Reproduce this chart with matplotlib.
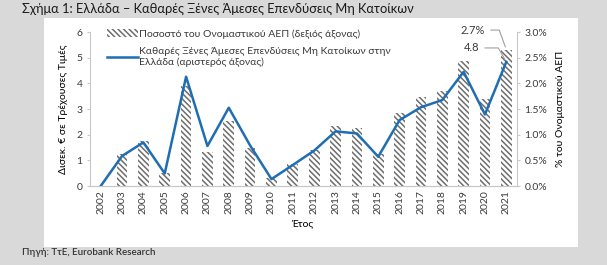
import matplotlib
matplotlib.use("Agg")
import matplotlib.pyplot as plt
from matplotlib.patches import Rectangle
from matplotlib.ticker import FuncFormatter

years = [str(y) for y in range(2002, 2022)]
fdi_bn = [0.0, 1.17, 1.70, 0.49, 4.26, 1.56, 3.05, 1.58, 0.27, 0.82,
          1.38, 2.13, 2.05, 1.14, 2.57, 3.07, 3.35, 4.45, 2.79, 4.84]
fdi_gdp = [0.0, 0.63, 0.88, 0.25, 1.95, 0.66, 1.27, 0.75, 0.15, 0.42,
           0.71, 1.16, 1.14, 0.62, 1.43, 1.73, 1.86, 2.43, 1.69, 2.66]

bar_label = "Ποσοστό του Ονομαστικού ΑΕΠ (δεξιός άξονας)"
line_label = "Καθαρές Ξένες Άμεσες Επενδύσεις Μη Κατοίκων στην\nΕλλάδα (αριστερός άξονας)"

plt.rcParams.update(
    {
        "font.family": ["Lato", "DejaVu Sans"],
        "font.size": 7,
        "hatch.color": "#6e6e6e",
        "hatch.linewidth": 1.1,
        "text.color": "#3a3a3a",
        "xtick.color": "#3a3a3a",
        "ytick.color": "#3a3a3a",
    }
)

fig = plt.figure(figsize=(6.07, 2.65), dpi=100)
fig.patch.set_facecolor("#d9d9d9")
fig.patches.append(
    Rectangle((0.0725, 0.068), 0.8795, 0.864, transform=fig.transFigure,
              facecolor="white", edgecolor="none", zorder=-5)
)

ax = fig.add_axes([0.1483, 0.298, 0.7034, 0.581])
ax2 = ax.twinx()
ax.set_zorder(ax2.get_zorder() + 1)
ax.patch.set_visible(False)
ax2.patch.set_visible(False)

x = list(range(len(years)))
bars = ax2.bar(x, fdi_gdp, width=0.5, color="white", hatch="\\\\\\\\\\\\",
               label=bar_label)
line, = ax.plot(x, fdi_bn, color="#1f6db2", linewidth=1.8, label=line_label)

ax.set_xlim(-0.5, 19.5)
ax.set_ylim(0, 6)
ax2.set_ylim(0, 3)
ax.set_yticks(range(0, 7))
ax2.set_yticks([0, 0.5, 1.0, 1.5, 2.0, 2.5, 3.0])
ax2.yaxis.set_major_formatter(FuncFormatter(lambda v, p: f"{v:.1f}%"))
ax.set_xticks(x)
ax.set_xticklabels(years, rotation=90)

for a in (ax, ax2):
    a.spines["top"].set_visible(False)
    for s in ("left", "right", "bottom"):
        a.spines[s].set_color("#c8c8c8")
        a.spines[s].set_linewidth(0.8)
    a.tick_params(length=2, color="#c8c8c8", labelsize=7.5)
ax.spines["right"].set_visible(False)
ax2.spines["left"].set_visible(False)
ax.tick_params(axis="x", length=0, pad=3)

ax.set_ylabel("Δισεκ. € σε Τρέχουσες Τιμές", fontsize=7.5, labelpad=6)
ax2.set_ylabel("% του Ονομαστικού ΑΕΠ", fontsize=7.5, labelpad=6)
ax.set_xlabel("Έτος", fontsize=7.5, labelpad=4)

ax.legend([bars, line], [bar_label, line_label], loc="upper left",
          bbox_to_anchor=(0.018, 1.08), frameon=False, fontsize=7.5,
          handlelength=3.0, handletextpad=0.1, labelspacing=0.8)

ax2.annotate("2.7%", xy=(x[-1], fdi_gdp[-1]), xytext=(-24, 14),
             textcoords="offset points", ha="center", va="center", fontsize=8,
             arrowprops=dict(arrowstyle="-", color="#a0a0a0", lw=0.8,
                             connectionstyle="angle,angleA=0,angleB=110,rad=0"))
ax.annotate("4.8", xy=(x[-1], fdi_bn[-1]), xytext=(-25, 10),
            textcoords="offset points", ha="center", va="center", fontsize=8,
            arrowprops=dict(arrowstyle="-", color="#a0a0a0", lw=0.8,
                            connectionstyle="angle,angleA=0,angleB=120,rad=0"))

fig.text(0.036, 0.966, "Σχήμα 1: Ελλάδα – Καθαρές Ξένες Άμεσες Επενδύσεις Μη Κατοίκων",
         fontsize=9.3, color="#1a1a1a", va="center", ha="left")
fig.text(0.036, 0.049, "Πηγή: ΤτΕ, Eurobank Research", fontsize=7,
         fontweight="semibold", color="#333333", va="center", ha="left")

fig.savefig("out.png", dpi=100, facecolor=fig.get_facecolor())
